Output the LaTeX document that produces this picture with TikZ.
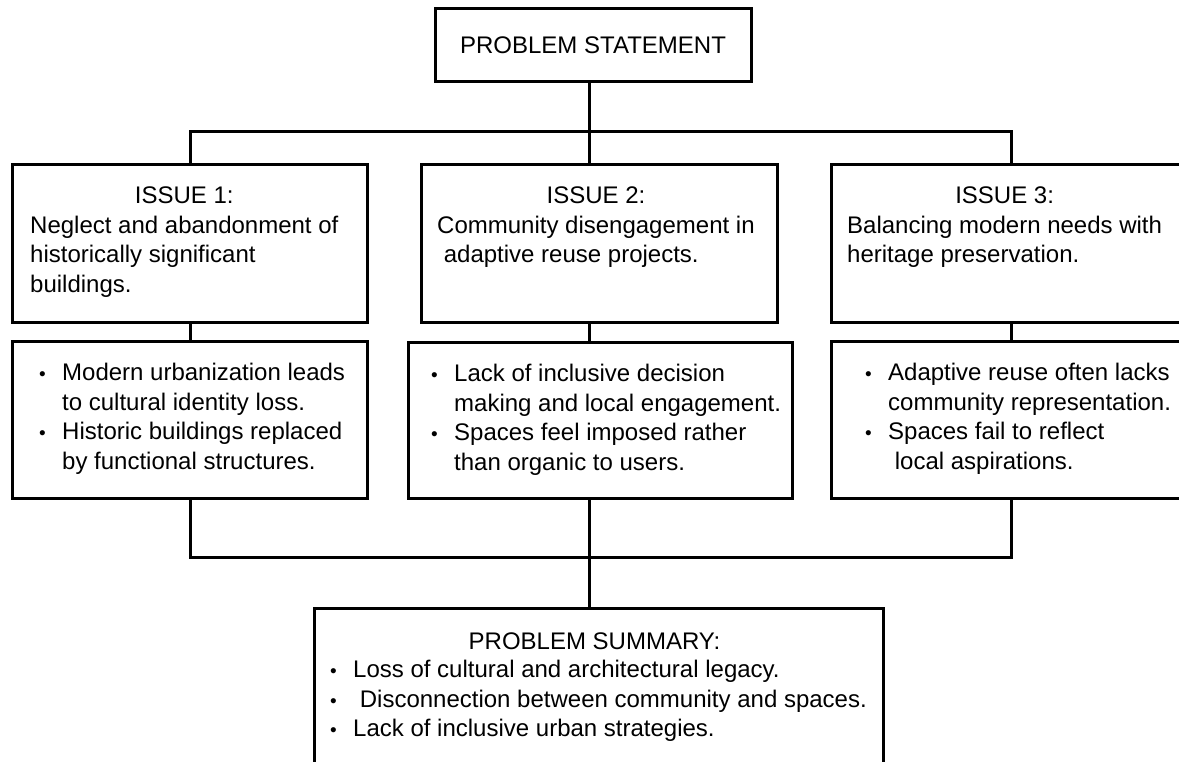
\documentclass[tikz,border=0pt]{standalone}
\usepackage{fontspec}
\setmainfont{Liberation Sans}
\newcommand{\bul}{\makebox[23pt][l]{\fontsize{19}{19}\selectfont\textbullet}}

\begin{document}
\begin{tikzpicture}[x=1pt,y=-1pt,
  frame/.style={draw, line width=3pt, inner sep=0pt, anchor=north west},
  txt/.style={inner sep=0pt, anchor=north west, font=\fontsize{24}{29.5}\selectfont},
  link/.style={line width=3pt}]
\useasboundingbox (0,0) rectangle (1179,762);
\clip (0,0) rectangle (1179,762);

% frames
\node[frame, anchor=center, minimum width=316pt, minimum height=73pt,
  font=\fontsize{24}{29.5}\selectfont] (stmt) at (593,45.5) {PROBLEM STATEMENT};
\node[frame, minimum width=355pt, minimum height=158pt] (issue1) at (11,163) {};
\node[frame, minimum width=356pt, minimum height=158pt] (issue2) at (420,163) {};
\node[frame, minimum width=360pt, minimum height=158pt] (issue3) at (830,163) {};
\node[frame, minimum width=355pt, minimum height=157pt] (points1) at (11,340) {};
\node[frame, minimum width=384pt, minimum height=156pt] (points2) at (407,341) {};
\node[frame, minimum width=360pt, minimum height=157pt] (points3) at (830,340) {};
\node[frame, minimum width=569pt, minimum height=193pt] (summary) at (313,607) {};

% texts
\node[txt] (issue1txt) at ([shift={(19,20)}]issue1.north west) {%
  \begin{tabular}{@{}l@{}}
  \multicolumn{1}{c}{ISSUE 1:}\\
  Neglect and abandonment of\\
  historically significant\\
  buildings.
  \end{tabular}};
\node[txt] (issue2txt) at ([shift={(17,20)}]issue2.north west) {%
  \begin{tabular}{@{}l@{}}
  \multicolumn{1}{c}{ISSUE 2:}\\
  Community disengagement in\\
  \ adaptive reuse projects.
  \end{tabular}};
\node[txt] (issue3txt) at ([shift={(17,20)}]issue3.north west) {%
  \begin{tabular}{@{}l@{}}
  \multicolumn{1}{c}{ISSUE 3:}\\
  Balancing modern needs with\\
  heritage preservation.
  \end{tabular}};

\node[txt] (points1txt) at ([shift={(28,20)}]points1.north west) {%
  \begin{tabular}{@{}l@{}l@{}}
  \bul & Modern urbanization leads\\
       & to cultural identity loss.\\
  \bul & Historic buildings replaced\\
       & by functional structures.
  \end{tabular}};
\node[txt] (points2txt) at ([shift={(24,20)}]points2.north west) {%
  \begin{tabular}{@{}l@{}l@{}}
  \bul & Lack of inclusive decision\\
       & making and local engagement.\\
  \bul & Spaces feel imposed rather\\
       & than organic to users.
  \end{tabular}};
\node[txt] (points3txt) at ([shift={(35,20)}]points3.north west) {%
  \begin{tabular}{@{}l@{}l@{}}
  \bul & Adaptive reuse often lacks\\
       & community representation.\\
  \bul & Spaces fail to reflect\\
       & \ local aspirations.
  \end{tabular}};

\node[txt, anchor=center] (sumtitle) at ([shift={(-4.5,34)}]summary.north) {PROBLEM SUMMARY:};
\node[txt] (sumtxt) at ([shift={(17,50)}]summary.north west) {%
  \begin{tabular}{@{}l@{}l@{}}
  \bul & Loss of cultural and architectural legacy.\\
  \bul & \ Disconnection between community and spaces.\\
  \bul & Lack of inclusive urban strategies.
  \end{tabular}};

% connectors
\coordinate (upbus) at (589,132);
\coordinate (lowbus) at (589,557);
\draw[link] (stmt.south -| upbus) -- (upbus);
\draw[link] (issue1.north) |- (upbus) -| (issue3.north);
\draw[link] (upbus) -- (issue2.north -| upbus);
\draw[link] (issue1.south) -- (points1.north);
\draw[link] (issue2.south -| upbus) -- (points2.north -| upbus);
\draw[link] (issue3.south) -- (points3.north);
\draw[link] (points1.south) |- (lowbus) -| (points3.south);
\draw[link] (points2.south -| lowbus) -- (summary.north -| lowbus);
\end{tikzpicture}
\end{document}
